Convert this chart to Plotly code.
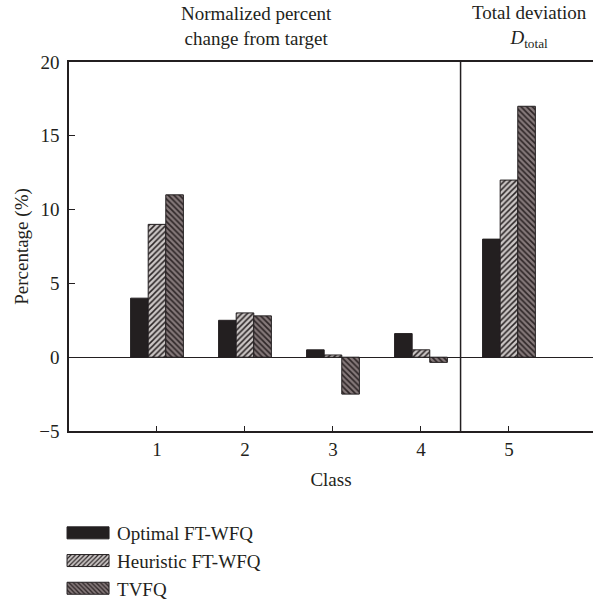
import plotly.graph_objects as go

# Class indices and per-scheme percentages
classes = [1, 2, 3, 4, 5]
optimal = [4.0, 2.5, 0.5, 1.6, 8.0]
heuristic = [9.0, 3.0, 0.15, 0.5, 12.0]
tvfq = [11.0, 2.8, -2.5, -0.35, 17.0]

series_names = ["Optimal FT-WFQ", "Heuristic FT-WFQ", "TVFQ"]
y_ticks = [-5, 0, 5, 10, 15, 20]
divider_x = 4.45

FONT = "Liberation Serif"
INK = "#231f20"

fig = go.Figure()
fig.add_bar(
    x=classes, y=optimal, name=series_names[0],
    marker=dict(color=INK, line=dict(color=INK, width=1)),
)
fig.add_bar(
    x=classes, y=heuristic, name=series_names[1],
    marker=dict(
        color="#cbc6c5",
        line=dict(color=INK, width=1),
        pattern=dict(shape="/", fgcolor="#2a2425", bgcolor="#cbc6c5",
                     size=4, solidity=0.38, fillmode="replace"),
    ),
)
fig.add_bar(
    x=classes, y=tvfq, name=series_names[2],
    marker=dict(
        color="#85797a",
        line=dict(color=INK, width=1),
        pattern=dict(shape="\\", fgcolor="#2e2627", bgcolor="#85797a",
                     size=4, solidity=0.42, fillmode="replace"),
    ),
)

# Separator between per-class results and the total deviation
fig.add_shape(type="line", xref="x", yref="paper", x0=divider_x, x1=divider_x,
              y0=0, y1=1, line=dict(color=INK, width=1.5))

fig.add_annotation(
    text="Normalized percent<br>change from target", xref="paper", yref="paper",
    x=0.357, y=1.097, showarrow=False, xanchor="center", yanchor="middle",
    font=dict(family=FONT, size=19, color=INK),
)
fig.add_annotation(
    text="Total deviation<br><i>D</i><sub>total</sub>", xref="paper", yref="paper",
    x=0.878, y=1.097, showarrow=False, xanchor="center", yanchor="middle",
    font=dict(family=FONT, size=19, color=INK),
)

fig.update_layout(
    width=593, height=603,
    margin=dict(l=69, r=0, t=62, b=171),
    paper_bgcolor="white", plot_bgcolor="white",
    barmode="group", bargap=0.4, bargroupgap=0,
    font=dict(family=FONT, size=19, color=INK),
    legend=dict(
        x=-0.019, y=-0.21, xanchor="left", yanchor="top",
        orientation="v", itemwidth=48, tracegroupgap=0,
        font=dict(family=FONT, size=19, color=INK),
        bgcolor="rgba(0,0,0,0)",
    ),
    showlegend=True,
)
fig.update_xaxes(
    range=[0, 5.955], tickvals=classes, ticktext=[str(c) for c in classes],
    ticks="inside", ticklen=5, tickcolor=INK, tickwidth=1,
    showline=True, linecolor=INK, linewidth=1.5, mirror=True,
    showgrid=False, zeroline=False,
    title=dict(text="Class", standoff=14, font=dict(family=FONT, size=19)),
)
fig.update_yaxes(
    range=[-5, 20], tickvals=y_ticks,
    ticktext=["\u22125" if v < 0 else str(v) for v in y_ticks],
    ticks="inside", ticklen=6, tickcolor=INK, tickwidth=1,
    showline=True, linecolor=INK, linewidth=1.5, mirror=False,
    showgrid=False, zeroline=True, zerolinecolor=INK, zerolinewidth=1.2,
    ticklabelstandoff=4,
    title=dict(text="Percentage (%)", standoff=6, font=dict(family=FONT, size=19)),
)

# Widen the legend swatches into long bars and nudge the legend block
# lower (it sits in the bottom margin without enlarging that margin)
post = """
document.querySelectorAll('.legend .legendpoints path').forEach(function(p){
  p.setAttribute('d', 'M21,6H-21V-6H21Z');
});
var lg = document.querySelector('g.legend');
if (lg) {
  var m = /translate\\(([-\\d.]+),\\s*([-\\d.]+)\\)/.exec(lg.getAttribute('transform') || '');
  if (m) {
    lg.setAttribute('transform', 'translate(' + m[1] + ',' + (parseFloat(m[2]) + 5) + ')');
  }
}
"""
fig.write_html("out.html", post_script=post)
